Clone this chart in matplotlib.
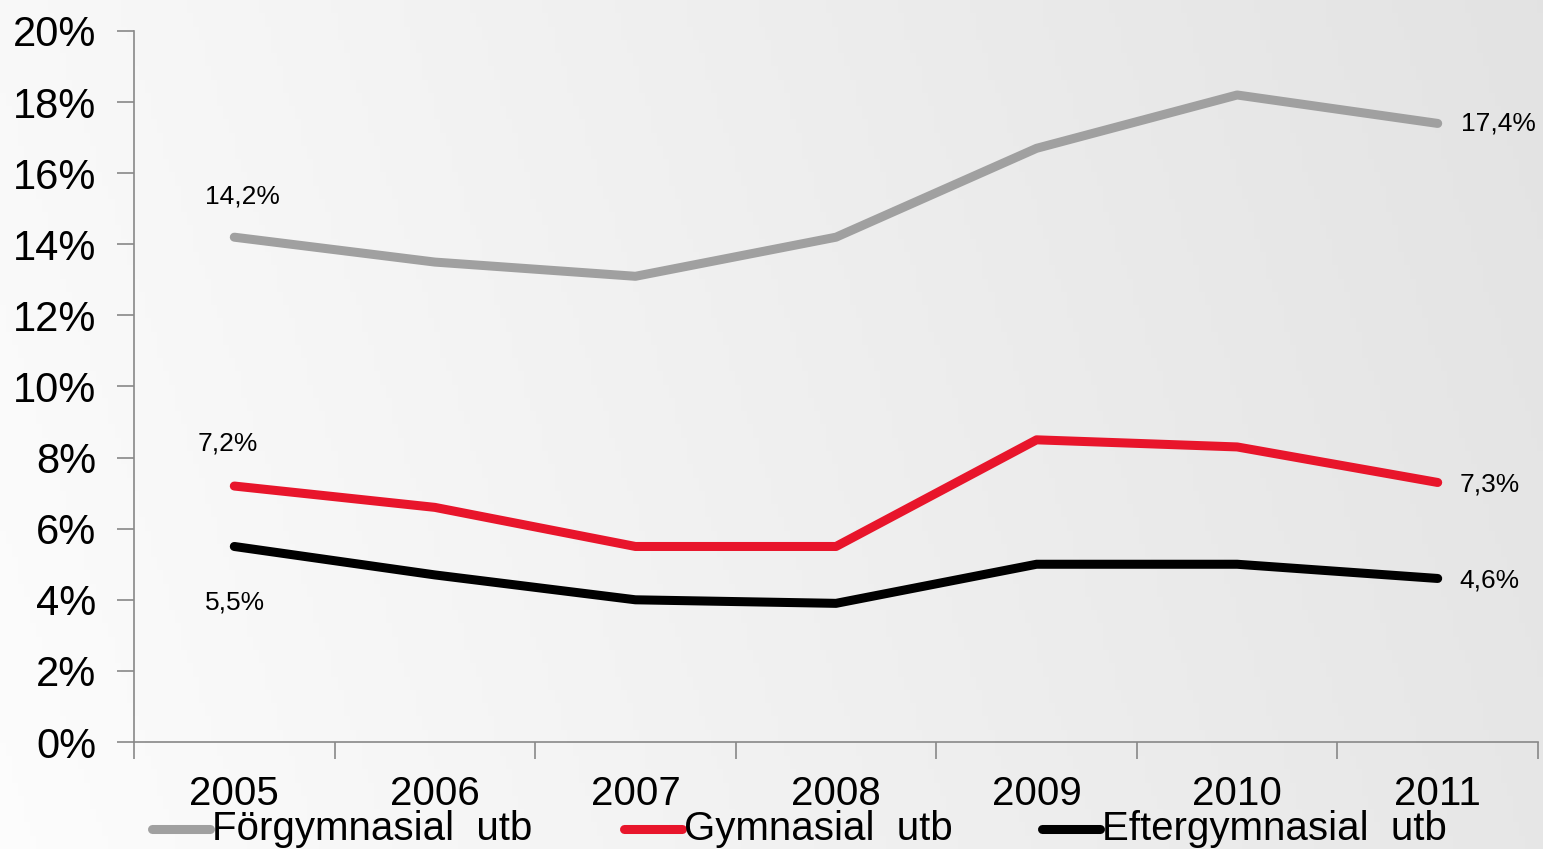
import numpy as np
import matplotlib
matplotlib.use("Agg")
import matplotlib.pyplot as plt
from matplotlib.lines import Line2D

plt.rcParams['font.family'] = ['Liberation Sans', 'DejaVu Sans']

# data
years = ['2005', '2006', '2007', '2008', '2009', '2010', '2011']
forgymnasial = [14.2, 13.5, 13.1, 14.2, 16.7, 18.2, 17.4]
gymnasial = [7.2, 6.6, 5.5, 5.5, 8.5, 8.3, 7.3]
eftergymnasial = [5.5, 4.7, 4.0, 3.9, 5.0, 5.0, 4.6]
series_names = ['Förgymnasial  utb', 'Gymnasial  utb', 'Eftergymnasial  utb']
series_colors = ['#a0a0a0', '#e8152b', '#000000']

W, H = 1543, 849
fig = plt.figure(figsize=(W / 100, H / 100), dpi=100)

# background gradient (light left -> grey right)
bg = fig.add_axes([0, 0, 1, 1], zorder=-10)
gx = np.linspace(0, 1, 256)
gy = np.linspace(0, 1, 64)
GX, GY = np.meshgrid(gx, gy)
grad = 0.975 - 0.085 * GX + 0.015 * GY
bg.imshow(np.dstack([grad] * 3), aspect='auto', extent=[0, 1, 0, 1], origin='upper')
bg.axis('off')

ax = fig.add_axes([134 / W, 1 - 742 / H, (1538 - 134) / W, (742 - 31) / H])
ax.patch.set_alpha(0)

x = np.arange(len(years))
all_series = [forgymnasial, gymnasial, eftergymnasial]
for vals, col in zip(all_series, series_colors):
    ax.plot(x, vals, color=col, lw=6.5, solid_capstyle='round', solid_joinstyle='round')

ax.set_xlim(-0.5, len(years) - 0.5)
ax.set_ylim(0, 20)
ax.set_yticks(np.arange(0, 21, 2))
ax.set_yticklabels([f'{v}%' for v in range(0, 21, 2)])
ax.set_xticks(x)
ax.set_xticklabels(years)
ax.set_xticks(np.arange(-0.5, len(years), 1), minor=True)
ax.tick_params(axis='x', which='major', length=0, pad=24, labelsize=29)
ax.tick_params(axis='x', which='minor', length=12, width=1.2, color='#888888', direction='out')
ax.tick_params(axis='y', length=12, width=1.2, color='#888888', pad=15, labelsize=30)

for side in ['top', 'right']:
    ax.spines[side].set_visible(False)
for side in ['left', 'bottom']:
    ax.spines[side].set_color('#888888')
    ax.spines[side].set_linewidth(1.2)

# data labels at first and last point
def lab(v):
    return f'{v:.1f}%'.replace('.', ',')

first_offsets = [(8, 41), (-6, 43), (1, -56)]
for vals, off in zip(all_series, first_offsets):
    ax.annotate(lab(vals[0]), (x[0], vals[0]), xytext=off, textcoords='offset pixels',
                ha='center', va='center', fontsize=19)
last_offsets = [(23, 0), (22, -2), (22, -2)]
for vals, off in zip(all_series, last_offsets):
    ax.annotate(lab(vals[-1]), (x[-1], vals[-1]), xytext=off, textcoords='offset pixels',
                ha='left', va='center', fontsize=19)

# legend along the bottom
legend_x = [152, 624, 1042]
ly = 1 - 829 / H
for name, col, lx in zip(series_names, series_colors, legend_x):
    fig.add_artist(Line2D([lx / W, (lx + 58) / W], [ly, ly], color=col, lw=6.5,
                          solid_capstyle='round', transform=fig.transFigure))
    fig.text((lx + 60) / W, ly, name, ha='left', va='center', fontsize=29)

fig.savefig('out.png', dpi=100)
